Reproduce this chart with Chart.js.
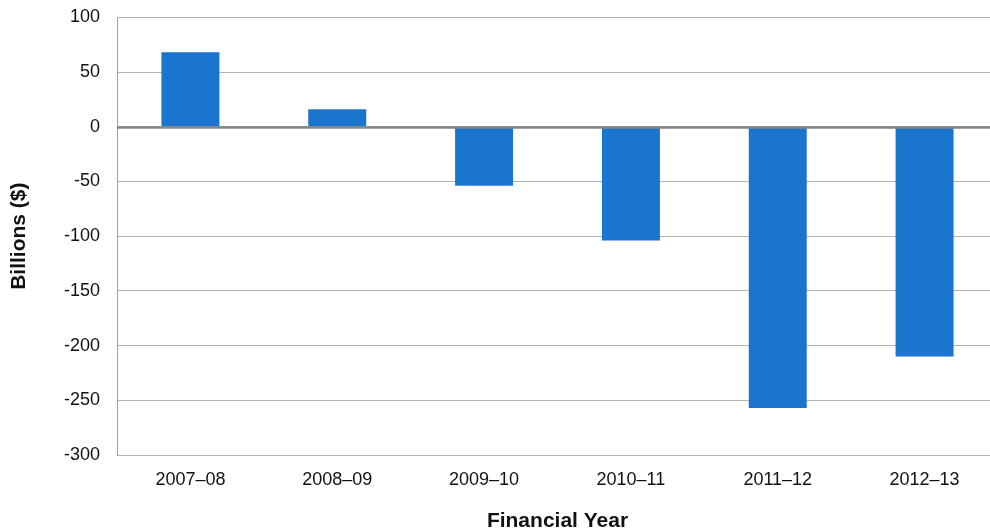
<!DOCTYPE html>
<html lang="en">
<head>
    <meta charset="UTF-8">
    <title>Budget Balance by Financial Year</title>
    <style>
        html, body {
            margin: 0;
            padding: 0;
            background-color: #fff;
            overflow: hidden;
        }
        .chart-wrap {
            position: relative;
            width: 998px;
            height: 532px;
        }
    </style>
</head>
<body>
    <div class="chart-wrap">
        <canvas id="balanceChart"></canvas>
    </div>
    <script src="https://cdn.jsdelivr.net/npm/chart.js"></script>
    <script>
        const years = ['2007–08', '2008–09', '2009–10', '2010–11', '2011–12', '2012–13'];
        const balance = [68, 16, -54, -104, -257, -210];
        const yTicks = [100, 50, 0, -50, -100, -150, -200, -250, -300];

        const FONT = 'Liberation Sans, Arial, sans-serif';

        // zero line sits on top of the bars, other gridlines stay underneath
        const zeroLine = {
            id: 'zeroLine',
            afterDatasetsDraw(chart) {
                const { ctx, chartArea, scales } = chart;
                const y = Math.round(scales.y.getPixelForValue(0)) + 0.5;
                ctx.save();
                ctx.strokeStyle = '#858585';
                ctx.lineWidth = 2.5;
                ctx.beginPath();
                ctx.moveTo(chartArea.left, y);
                ctx.lineTo(chartArea.right, y);
                ctx.stroke();
                ctx.restore();
            }
        };

        new Chart(document.getElementById('balanceChart'), {
            type: 'bar',
            data: {
                labels: years,
                datasets: [{
                    label: 'Billions ($)',
                    data: balance,
                    backgroundColor: '#1b75cf',
                    borderWidth: 0,
                    barPercentage: 0.395,
                    categoryPercentage: 1
                }]
            },
            options: {
                responsive: true,
                maintainAspectRatio: false,
                animation: false,
                layout: {
                    padding: { top: 17.3, right: 0, bottom: 0, left: 0 }
                },
                plugins: {
                    legend: { display: false },
                    tooltip: { enabled: false }
                },
                scales: {
                    x: {
                        grid: { display: false, drawTicks: false },
                        border: { display: false },
                        ticks: {
                            color: '#111',
                            font: { family: FONT, size: 18 },
                            padding: 14,
                            maxRotation: 0
                        },
                        title: {
                            display: true,
                            text: 'Financial Year',
                            color: '#111',
                            font: { family: FONT, size: 21, weight: 'bold', lineHeight: 1 },
                            padding: { top: 24, bottom: 0 }
                        },
                        afterFit(scale) {
                            scale.height = 77;
                        }
                    },
                    y: {
                        min: -300,
                        max: 100,
                        afterBuildTicks(scale) {
                            scale.ticks = yTicks.map(v => ({ value: v }));
                        },
                        grid: {
                            color: '#b4b4b4',
                            lineWidth: 1,
                            drawTicks: false
                        },
                        border: { display: true, color: '#a0a0a0', width: 1 },
                        ticks: {
                            color: '#111',
                            font: { family: FONT, size: 18 },
                            padding: 17
                        },
                        title: {
                            display: true,
                            text: 'Billions ($)',
                            color: '#111',
                            font: { family: FONT, size: 21, weight: 'bold', lineHeight: 1 },
                            padding: { top: 8.5, bottom: 0 }
                        },
                        afterFit(scale) {
                            scale.width = 117;
                            // the top/bottom space is set by layout.padding instead
                            scale.paddingTop = 0;
                            scale.paddingBottom = 0;
                        }
                    }
                }
            },
            plugins: [zeroLine]
        });
    </script>
</body>
</html>
